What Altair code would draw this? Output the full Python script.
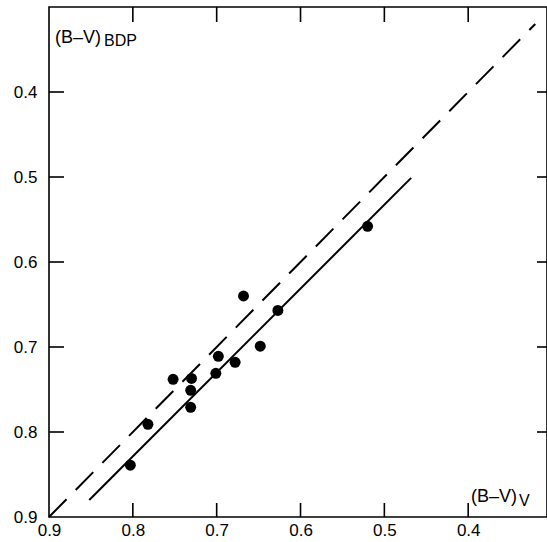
import altair as alt
import pandas as pd

# Data
bv_v = [0.668, 0.627, 0.648, 0.698, 0.678, 0.701, 0.752, 0.730, 0.731, 0.731, 0.782, 0.803, 0.520]
bv_bdp = [0.640, 0.657, 0.699, 0.711, 0.718, 0.731, 0.738, 0.737, 0.751, 0.771, 0.791, 0.839, 0.558]

fit_x = [0.852, 0.468]
fit_y = [0.880, 0.501]

one_x = [0.9, 0.32]
one_y = [0.9, 0.32]

tick_vals = [0.4, 0.5, 0.6, 0.7, 0.8, 0.9]
inner_ticks = [0.4, 0.5, 0.6, 0.7, 0.8]

W, H = 498, 510
FONT = "Liberation Sans"

xscale = alt.Scale(domain=[0.306, 0.9], reverse=True, nice=False, zero=False)
yscale = alt.Scale(domain=[0.3, 0.9], reverse=True, nice=False, zero=False)

pts = pd.DataFrame({"x": bv_v, "y": bv_bdp})
fit = pd.DataFrame({"x": fit_x, "y": fit_y})
one = pd.DataFrame({"x": one_x, "y": one_y})
ticks = pd.DataFrame({"v": inner_ticks})

xaxis = alt.Axis(values=tick_vals, format=".1f", ticks=False, grid=False,
                 domain=False, labelFont=FONT, labelFlush=False,
                 labelFontSize=17, labelColor="black", labelPadding=5, title=None)
yaxis = alt.Axis(values=tick_vals, format=".1f", ticks=False, grid=False,
                 domain=False, labelFont=FONT, labelFlush=False,
                 labelFontSize=17, labelColor="black", labelPadding=12, title=None)

X = lambda f: alt.X(f, scale=xscale, axis=xaxis)
Y = lambda f: alt.Y(f, scale=yscale, axis=yaxis)

points = alt.Chart(pts).mark_circle(size=120, color="black", opacity=1).encode(
    x=X("x:Q"), y=Y("y:Q"),
)

fit_line = alt.Chart(fit).mark_line(color="black", strokeWidth=2).encode(
    x=X("x:Q"), y=Y("y:Q"),
)

one_line = alt.Chart(one).mark_line(color="black", strokeWidth=2, strokeDash=[25, 13]).encode(
    x=X("x:Q"), y=Y("y:Q"),
)

bottom_ticks = alt.Chart(ticks).mark_rule(color="black", strokeWidth=1.6).encode(
    x=X("v:Q"), y=alt.value(H), y2=alt.value(H - 14),
)
top_ticks = alt.Chart(ticks).mark_rule(color="black", strokeWidth=1.6).encode(
    x=X("v:Q"), y=alt.value(0), y2=alt.value(15),
)
left_ticks = alt.Chart(ticks).mark_rule(color="black", strokeWidth=1.6).encode(
    y=Y("v:Q"), x=alt.value(0), x2=alt.value(15),
)
right_ticks = alt.Chart(ticks).mark_rule(color="black", strokeWidth=1.6).encode(
    y=Y("v:Q"), x=alt.value(W - 10), x2=alt.value(W),
)

def label(txt, px, py, size):
    return alt.Chart(pd.DataFrame({"t": [txt]})).mark_text(
        align="left", baseline="alphabetic", font=FONT, fontSize=size, color="black"
    ).encode(text="t:N", x=alt.value(px), y=alt.value(py))

ylab_main = label("(B–V)", 6, 36, 18)
ylab_sub = label("BDP", 55, 39, 16)
xlab_main = label("(B–V)", 422, 495, 18)
xlab_sub = label("V", 470, 499, 16)

chart = alt.layer(
    points, fit_line, one_line,
    bottom_ticks, top_ticks, left_ticks, right_ticks,
    ylab_main, ylab_sub, xlab_main, xlab_sub,
).properties(
    width=W, height=H,
    autosize=alt.AutoSizeParams(type="none"),
    padding={"left": 49, "top": 7, "right": 0, "bottom": 25},
    background="white",
).configure_view(stroke="black", strokeWidth=1.6)

chart.save("out.html", embed_options={"renderer": "svg", "actions": False})
